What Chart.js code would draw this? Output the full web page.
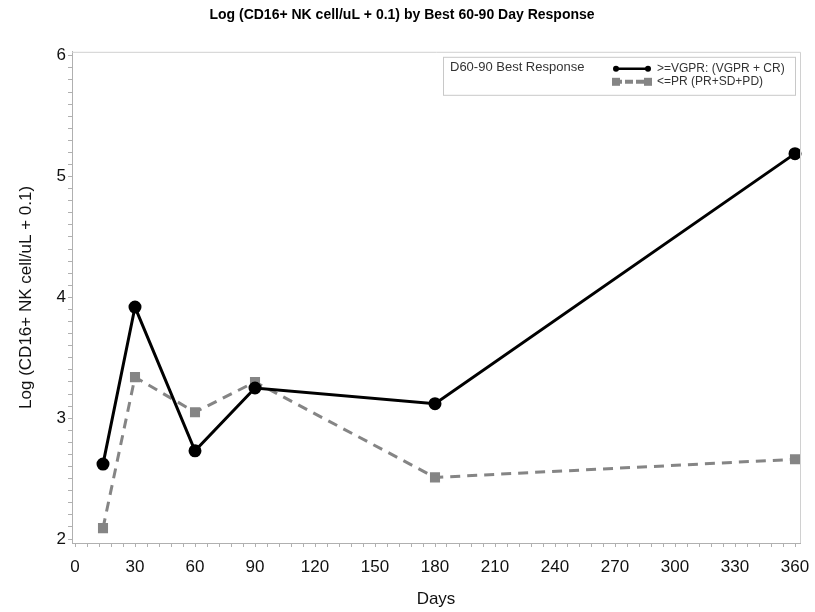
<!DOCTYPE html>
<html>
<head>
<meta charset="utf-8">
<script src="https://cdn.jsdelivr.net/npm/chart.js@4.4.0/dist/chart.umd.min.js"></script>
<style>
  html, body { margin: 0; padding: 0; background: #fff; }
  #wrap { width: 815px; height: 612px; }
</style>
</head>
<body>
<div id="wrap"><canvas id="chart" width="815" height="612"></canvas></div>
<script>
// data
const days = [14, 30, 60, 90, 180, 360];
const vgprValues = [2.62, 3.92, 2.73, 3.25, 3.12, 5.19];
const prValues = [2.09, 3.34, 3.05, 3.30, 2.51, 2.66];
const seriesNames = ['>=VGPR: (VGPR + CR)', '<=PR (PR+SD+PD)'];
const legendTitle = 'D60-90 Best Response';
const xTicks = [0, 30, 60, 90, 120, 150, 180, 210, 240, 270, 300, 330, 360];
const yTicks = [2, 3, 4, 5, 6];

const font = 'Liberation Sans, Arial, sans-serif';
const axisGray = '#b0b0b0';

function toPoints(xs, ys) {
    return xs.map((x, i) => ({ x: x, y: ys[i] }));
}

// legend box drawn inside the plot, top right
const insideLegend = {
    id: 'insideLegend',
    afterDraw(chart) {
        const ctx = chart.ctx;
        const area = chart.chartArea;
        const ds = chart.data.datasets;
        const boxL = area.right - 357, boxT = area.top + 5;
        const boxW = 352, boxH = 38;
        ctx.save();
        ctx.strokeStyle = '#c8c8c8';
        ctx.lineWidth = 1;
        ctx.strokeRect(boxL + 0.5, boxT + 0.5, boxW, boxH);
        ctx.fillStyle = '#333';
        ctx.font = '13px ' + font;
        ctx.textBaseline = 'middle';
        ctx.fillText(legendTitle, boxL + 7, boxT + 11);
        ctx.font = '12px ' + font;
        ds.forEach((d, i) => {
            const y = boxT + 12 + i * 13;
            const x0 = boxL + 171, x1 = x0 + 36;
            ctx.strokeStyle = d.borderColor;
            ctx.lineWidth = i === 0 ? 2.5 : 4;
            ctx.setLineDash(i === 0 ? [] : [8, 3]);
            ctx.beginPath();
            ctx.moveTo(x0, y);
            ctx.lineTo(x1, y);
            ctx.stroke();
            ctx.setLineDash([]);
            ctx.fillStyle = d.pointBackgroundColor;
            [x0 + 2, x1 - 2].forEach(px => {
                if (i === 0) {
                    ctx.beginPath();
                    ctx.arc(px, y, 3, 0, Math.PI * 2);
                    ctx.fill();
                } else {
                    ctx.fillRect(px - 4, y - 4, 8, 8);
                }
            });
            ctx.fillStyle = '#333';
            ctx.fillText(d.label, x1 + 7, y);
        });
        ctx.restore();
    }
};

const ctx = document.getElementById('chart').getContext('2d');
new Chart(ctx, {
    type: 'line',
    data: {
        datasets: [{
            label: seriesNames[0],
            data: toPoints(days, vgprValues),
            borderColor: '#000',
            backgroundColor: '#000',
            pointBackgroundColor: '#000',
            borderWidth: 3,
            pointStyle: 'circle',
            pointRadius: 5,
            tension: 0,
            clip: false
        }, {
            label: seriesNames[1],
            data: toPoints(days, prValues),
            borderColor: '#858585',
            backgroundColor: '#858585',
            pointBackgroundColor: '#858585',
            borderWidth: 3,
            borderDash: [10, 7],
            pointStyle: 'rect',
            pointRadius: 5,
            tension: 0,
            clip: false
        }]
    },
    options: {
        responsive: false,
        animation: false,
        layout: { padding: { left: 4, right: 15, top: 0, bottom: 2 } },
        plugins: {
            legend: { display: false },
            tooltip: { enabled: false },
            title: {
                display: true,
                text: 'Log (CD16+ NK cell/uL + 0.1) by Best 60-90 Day Response',
                color: '#000',
                font: { family: font, size: 14, weight: 'bold' },
                padding: { top: 7, bottom: 28 }
            }
        },
        scales: {
            x: {
                type: 'linear',
                min: -1.5,
                max: 362.5,
                afterBuildTicks: s => {
                    const t = [];
                    for (let v = 0; v <= 360; v += 6) t.push({ value: v });
                    s.ticks = t;
                },
                afterFit: s => {
                    s.height = 67;
                    s.paddingLeft = 0;
                    s.paddingRight = 0;
                },
                ticks: {
                    autoSkip: false,
                    maxRotation: 0,
                    color: '#111',
                    font: { family: font, size: 17 },
                    padding: 10,
                    callback: v => xTicks.includes(v) ? String(v) : ''
                },
                grid: {
                    drawOnChartArea: false,
                    tickLength: 4,
                    tickColor: axisGray
                },
                border: { color: axisGray, width: 1 },
                title: {
                    display: true,
                    text: 'Days',
                    color: '#111',
                    font: { family: font, size: 17 },
                    padding: { top: 13, bottom: 0 }
                }
            },
            y: {
                type: 'linear',
                min: 1.967,
                max: 6.033,
                afterBuildTicks: s => {
                    const t = [];
                    for (let k = 20; k <= 60; k++) t.push({ value: k / 10 });
                    s.ticks = t;
                },
                afterFit: s => { s.width = 68; },
                ticks: {
                    autoSkip: false,
                    color: '#111',
                    font: { family: font, size: 17 },
                    padding: 2,
                    callback: v => yTicks.some(t => Math.abs(t - v) < 1e-6) ? String(Math.round(v)) : ''
                },
                grid: {
                    drawOnChartArea: false,
                    tickLength: 4,
                    tickColor: axisGray
                },
                border: { color: axisGray, width: 1 },
                title: {
                    display: true,
                    text: 'Log (CD16+ NK cell/uL + 0.1)',
                    color: '#111',
                    font: { family: font, size: 17 },
                    padding: { top: 12, bottom: 6 }
                }
            }
        }
    },
    plugins: [insideLegend, {
        id: 'frame',
        afterDraw(chart) {
            const a = chart.chartArea;
            const c = chart.ctx;
            c.save();
            c.strokeStyle = '#d0d0d0';
            c.lineWidth = 1;
            c.beginPath();
            c.moveTo(a.left, a.top + 0.5);
            c.lineTo(a.right + 0.5, a.top + 0.5);
            c.lineTo(a.right + 0.5, a.bottom);
            c.stroke();
            c.restore();
        }
    }]
});
</script>
</body>
</html>
